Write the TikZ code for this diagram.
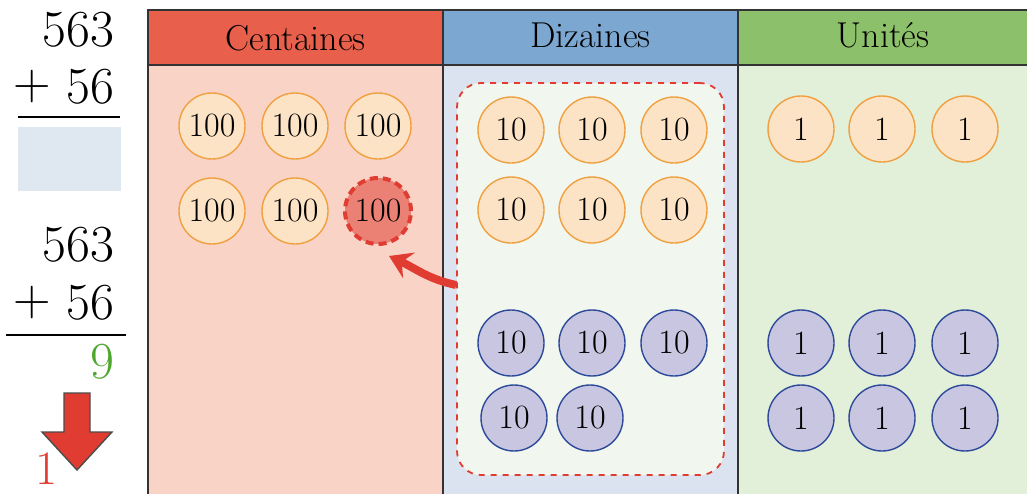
\documentclass[tikz,border=0pt]{standalone}
\usepackage{tikz}
\usetikzlibrary{arrows.meta}

\definecolor{hundredHead}{HTML}{E8604C}
\definecolor{tenHead}{HTML}{7BA7D1}
\definecolor{oneHead}{HTML}{8DC06A}
\definecolor{hundredBody}{HTML}{F8D3C6}
\definecolor{tenBody}{HTML}{DCE3F0}
\definecolor{oneBody}{HTML}{E2EFD9}
\definecolor{groupFill}{HTML}{F1F7EE}
\definecolor{coinLine}{HTML}{F0A040}
\definecolor{coinFill}{HTML}{FDE3C6}
\definecolor{newLine}{HTML}{2E4A9A}
\definecolor{newFill}{HTML}{C8C6E0}
\definecolor{carryRed}{HTML}{E03C31}
\definecolor{answerBox}{HTML}{DFE7F1}
\definecolor{sumGreen}{HTML}{4EA72E}

\tikzset{
	coin/.style={circle, draw=coinLine, fill=coinFill, line width=0.7pt,
		minimum size=33pt, inner sep=0pt, font=\fontsize{17}{17}\selectfont},
	newcoin/.style={coin, draw=newLine, fill=newFill},
	carried/.style={coin, draw=carryRed, fill=carryRed!55!hundredBody,
		line width=2pt, dash pattern=on 4pt off 2.5pt},
	header/.style={anchor=center, font=\fontsize{18}{18}\selectfont},
	bignum/.style={anchor=east, font=\fontsize{26}{26}\selectfont}
}

\begin{document}
\begin{tikzpicture}[x=0.5pt,y=-0.5pt]
	\useasboundingbox (0,0) rectangle (1027,493);

	% columns
	\fill[hundredBody] (148,65) rectangle (443,500);
	\fill[tenBody] (443,65) rectangle (738,500);
	\fill[oneBody] (738,65) rectangle (1030,500);
	\fill[hundredHead] (148,10) rectangle (443,65);
	\fill[tenHead] (443,10) rectangle (738,65);
	\fill[oneHead] (738,10) rectangle (1030,65);
	\draw[black!80, line width=0.8pt] (148,500) -- (148,10) -- (1030,10);
	\draw[black!80, line width=0.8pt] (148,65) -- (1030,65);
	\draw[black!80, line width=0.8pt] (443,10) -- (443,500);
	\draw[black!80, line width=0.8pt] (738,10) -- (738,500);

	\node[header] (centaines) at (295.5,38) {Centaines};
	\node[header] (dizaines) at (590.5,35) {Dizaines};
	\node[header] (unites) at (883,35) {Unités};

	% group of ten tens
	\node[draw=carryRed, fill=groupFill, dashed, line width=0.9pt,
		rounded corners=12pt, minimum width=133.5pt, minimum height=196pt]
		(group) at (590.5,279) {};

	% hundreds
	\foreach \x [count=\i] in {212,295,378}
		\node[coin] (h1\i) at (\x,126) {100};
	\foreach \x [count=\i] in {212,295}
		\node[coin] (h2\i) at (\x,211) {100};
	\node[carried] (h23) at (378,211) {100};

	% tens
	\foreach \x [count=\i] in {511,592,674} {
		\node[coin] (t1\i) at (\x,130) {10};
		\node[coin] (t2\i) at (\x,210) {10};
		\node[newcoin] (t3\i) at (\x,343) {10};
	}
	\node[newcoin] (t41) at (514,418) {10};
	\node[newcoin] (t42) at (590,418) {10};

	% units
	\foreach \x [count=\i] in {801,882,965} {
		\node[coin] (u1\i) at (\x,129) {1};
		\node[newcoin] (u3\i) at (\x,343) {1};
		\node[newcoin] (u4\i) at (\x,418) {1};
	}

	% carry
	\coordinate (carryend) at (389,256);
	\draw[carryRed, line width=4pt, -{Stealth[length=11pt, width=14pt, inset=4pt]}]
		(group.west |- 0,285) to[out=168, in=-25] (carryend);

	% written sum
	\node[bignum] (a1) at (121,30) {563};
	\node[bignum] (b1) at (121,87) {56};
	\node[font=\fontsize{26}{26}\selectfont] (p1) at (32,87) {+};
	\draw[line width=1pt] (18,117) -- (120,117);
	\fill[answerBox] (18,127) rectangle (121,191);

	\node[bignum] (a2) at (121,245) {563};
	\node[bignum] (b2) at (121,303) {56};
	\node[font=\fontsize{26}{26}\selectfont] (p2) at (32,303) {+};
	\draw[line width=1pt] (6,335) -- (126,335);
	\node[bignum, text=sumGreen] (s2) at (121,362) {9};

	\draw[fill=carryRed, draw=black!70, line width=0.7pt]
		(64,393) -- (90,393) -- (90,432) -- (112,432) -- (77,470)
		-- (42,432) -- (64,432) -- cycle;
	\node[font=\fontsize{24}{24}\selectfont, text=carryRed, inner sep=0pt,
		anchor=south] (c1) at (47,485) {1};
\end{tikzpicture}
\end{document}
